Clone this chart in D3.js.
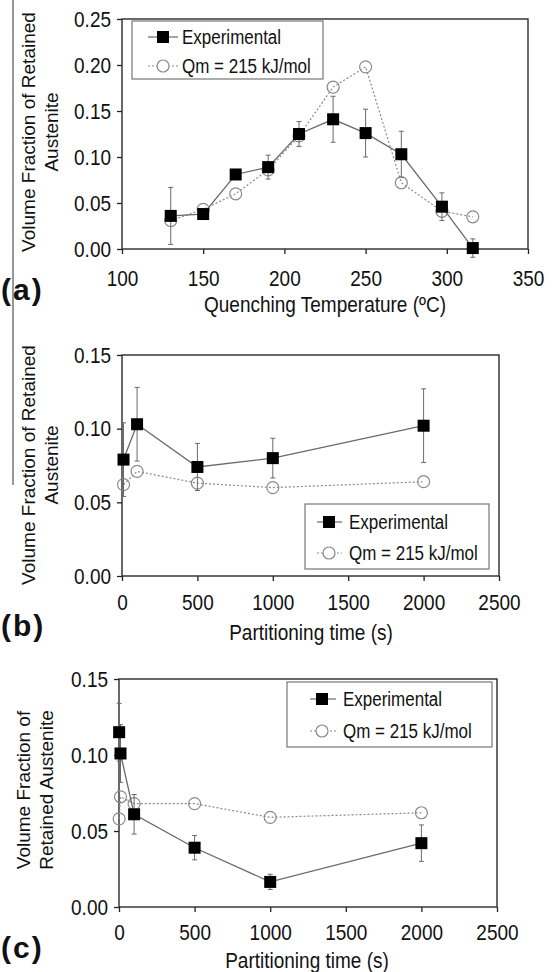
<!DOCTYPE html>
<html>
<head>
<meta charset="utf-8">
<script src="https://cdn.jsdelivr.net/npm/d3@7"></script>
<style>
  body { margin: 0; background: #fff; }
  text { font-family: "Liberation Sans", Arial, sans-serif; fill: #111; }
  .stretch { transform-box: fill-box; transform-origin: center; transform: scaleY(1.15); }
</style>
</head>
<body>
<div id="chart"></div>
<script>
var svgWidth = 552;
var svgHeight = 972;

// panel (a) - quenching temperature
var quenchTemp = [130, 150, 170, 190, 209, 230, 250, 272, 297, 316];
var expA = [0.036, 0.038, 0.081, 0.089, 0.125, 0.141, 0.126, 0.103, 0.046, 0.001];
var errA = [0.031, 0.004, 0.003, 0.013, 0.0135, 0.025, 0.026, 0.025, 0.015, 0.01];
var qmA = [0.031, 0.043, 0.060, 0.086, 0.123, 0.176, 0.198, 0.072, 0.041, 0.035];
var xTicksA = [100, 150, 200, 250, 300, 350];
var yTicksA = [0, 0.05, 0.10, 0.15, 0.20, 0.25];

// panel (b) - partitioning time
var timeB = [10, 100, 500, 1000, 2000];
var expB = [0.079, 0.103, 0.074, 0.080, 0.102];
var errB = [0.025, 0.025, 0.016, 0.0135, 0.025];
var qmB = [0.062, 0.071, 0.063, 0.060, 0.064];

// panel (c) - partitioning time
var timeC = [1, 10, 100, 500, 1000, 2000];
var expC = [0.115, 0.101, 0.061, 0.039, 0.0165, 0.042];
var errC = [0.019, 0.019, 0.013, 0.008, 0.005, 0.012];
var qmC = [0.058, 0.0725, 0.068, 0.068, 0.059, 0.062];

var xTicksTime = [0, 500, 1000, 1500, 2000, 2500];
var yTicksTime = [0, 0.05, 0.10, 0.15];

var legendNames = ["Experimental", "Qm = 215 kJ/mol"];

var svg = d3.select("#chart")
    .append("svg")
    .attr("width", svgWidth)
    .attr("height", svgHeight);

// the stray border line at the left of the figure
svg.append("line")
    .attr("x1", 13).attr("x2", 13)
    .attr("y1", 0).attr("y2", 485)
    .attr("stroke", "#333")
    .attr("stroke-width", 1);

function drawPanel(p) {
    var xScale = d3.scaleLinear().domain(p.xDomain).range(p.xRange);
    var yScale = d3.scaleLinear().domain(p.yDomain).range(p.yRange);

    var g = svg.append("g");

    // axes
    var bottomAxis = d3.axisBottom(xScale)
        .tickValues(p.xTicks)
        .tickSize(5)
        .tickPadding(p.xPad)
        .tickFormat(d3.format("d"));
    var leftAxis = d3.axisLeft(yScale)
        .tickValues(p.yTicks)
        .tickSize(5)
        .tickPadding(6)
        .tickFormat(d3.format(".2f"));

    var xAxis = g.append("g")
        .attr("transform", `translate(0, ${p.yRange[0]})`)
        .call(bottomAxis);
    var yAxis = g.append("g")
        .attr("transform", `translate(${p.xRange[0]}, 0)`)
        .call(leftAxis);

    [xAxis, yAxis].forEach(function(ax) {
        ax.select(".domain").remove();
        ax.selectAll("line").attr("stroke", "#222").attr("stroke-width", 1.3);
        ax.selectAll("text")
            .attr("class", "stretch")
            .style("font-size", "19px")
            .attr("fill", "#111");
    });

    // plot frame
    g.append("rect")
        .attr("x", p.xRange[0])
        .attr("y", p.yRange[1])
        .attr("width", p.xRange[1] - p.xRange[0])
        .attr("height", p.yRange[0] - p.yRange[1])
        .attr("fill", "none")
        .attr("stroke", "#2a2a2a")
        .attr("stroke-width", 1.4);

    var expData = p.x.map((d, i) => ({x: d, y: p.exp[i], e: p.err[i]}));
    var qmData = p.x.map((d, i) => ({x: d, y: p.qm[i]}));

    var line = d3.line()
        .x(d => xScale(d.x))
        .y(d => yScale(d.y));

    // model series, dotted line with open circles
    g.append("path")
        .datum(qmData)
        .attr("d", line)
        .attr("fill", "none")
        .attr("stroke", "#8a8a8a")
        .attr("stroke-width", 1.2)
        .attr("stroke-dasharray", "2,2");

    g.append("g")
        .selectAll("circle")
        .data(qmData)
        .enter()
        .append("circle")
        .attr("cx", d => xScale(d.x))
        .attr("cy", d => yScale(d.y))
        .attr("r", 6)
        .attr("fill", "none")
        .attr("stroke", "#8a8a8a")
        .attr("stroke-width", 1.2);

    // error bars
    var bars = g.append("g")
        .selectAll("g")
        .data(expData)
        .enter()
        .append("g")
        .attr("stroke", "#6a6a6a")
        .attr("stroke-width", 1);
    bars.append("line")
        .attr("x1", d => xScale(d.x)).attr("x2", d => xScale(d.x))
        .attr("y1", d => yScale(d.y - d.e)).attr("y2", d => yScale(d.y + d.e));
    bars.append("line")
        .attr("x1", d => xScale(d.x) - 2.5).attr("x2", d => xScale(d.x) + 2.5)
        .attr("y1", d => yScale(d.y + d.e)).attr("y2", d => yScale(d.y + d.e));
    bars.append("line")
        .attr("x1", d => xScale(d.x) - 2.5).attr("x2", d => xScale(d.x) + 2.5)
        .attr("y1", d => yScale(d.y - d.e)).attr("y2", d => yScale(d.y - d.e));

    // experimental series, solid line with black squares
    g.append("path")
        .datum(expData)
        .attr("d", line)
        .attr("fill", "none")
        .attr("stroke", "#6a6a6a")
        .attr("stroke-width", 1.3);

    g.append("g")
        .selectAll("rect")
        .data(expData)
        .enter()
        .append("rect")
        .attr("x", d => xScale(d.x) - 6)
        .attr("y", d => yScale(d.y) - 6)
        .attr("width", 12)
        .attr("height", 12)
        .attr("fill", "#000");

    // legend
    var lg = p.legend;
    g.append("rect")
        .attr("x", lg.x0).attr("y", lg.y0)
        .attr("width", lg.x1 - lg.x0).attr("height", lg.y1 - lg.y0)
        .attr("fill", "#fff")
        .attr("stroke", "#777")
        .attr("stroke-width", 1.2);
    lg.rows.forEach(function(ry, i) {
        g.append("line")
            .attr("x1", lg.lineX[0]).attr("x2", lg.lineX[1])
            .attr("y1", ry).attr("y2", ry)
            .attr("stroke", i === 0 ? "#6a6a6a" : "#8a8a8a")
            .attr("stroke-width", 1.2)
            .attr("stroke-dasharray", i === 0 ? null : "2,2");
        if (i === 0) {
            g.append("rect")
                .attr("x", lg.mx - 6).attr("y", ry - 6)
                .attr("width", 12).attr("height", 12)
                .attr("fill", "#000");
        } else {
            g.append("circle")
                .attr("cx", lg.mx).attr("cy", ry).attr("r", 6)
                .attr("fill", "#fff")
                .attr("stroke", "#8a8a8a")
                .attr("stroke-width", 1.2);
        }
        g.append("text")
            .attr("class", "stretch")
            .attr("x", lg.tx)
            .attr("y", ry)
            .attr("dy", "0.36em")
            .style("font-size", "17px")
            .text(legendNames[i]);
    });

    // x axis title
    g.append("text")
        .attr("class", "stretch")
        .attr("x", p.xTitle.x)
        .attr("y", p.xTitle.y)
        .attr("dy", "0.36em")
        .attr("text-anchor", "middle")
        .style("font-size", "19px")
        .text(p.xTitle.text);

    // y axis title, two lines
    p.yTitle.lines.forEach(function(t, i) {
        g.append("text")
            .attr("transform", `translate(${p.yTitle.xs[i]}, ${p.yTitle.cy}) rotate(-90)`)
            .attr("dy", "0.36em")
            .attr("text-anchor", "middle")
            .style("font-size", "19px")
            .text(t);
    });

    // panel tag
    g.append("text")
        .attr("x", 1)
        .attr("y", p.tagY)
        .attr("dy", "0.36em")
        .style("font-size", "30px")
        .style("font-weight", "bold")
        .style("letter-spacing", "2px")
        .attr("fill", "#000")
        .text(p.tag);
}

drawPanel({
    x: quenchTemp, exp: expA, err: errA, qm: qmA,
    xDomain: [100, 350], yDomain: [0, 0.25],
    xRange: [122, 528], yRange: [249, 19],
    xTicks: xTicksA, yTicks: yTicksA, xPad: 17,
    legend: {x0: 132, y0: 21, x1: 323, y1: 79, rows: [37, 66], lineX: [148, 178], mx: 163, tx: 182},
    xTitle: {text: "Quenching Temperature (ºC)", x: 325, y: 304},
    yTitle: {lines: ["Volume Fraction of Retained", "Austenite"], xs: [28, 51], cy: 132},
    tag: "(a)", tagY: 289
});

drawPanel({
    x: timeB, exp: expB, err: errB, qm: qmB,
    xDomain: [0, 2500], yDomain: [0, 0.15],
    xRange: [122, 499], yRange: [576, 355],
    xTicks: xTicksTime, yTicks: yTicksTime, xPad: 14,
    legend: {x0: 305, y0: 504, x1: 489, y1: 569, rows: [522, 553], lineX: [317, 342], mx: 329, tx: 349},
    xTitle: {text: "Partitioning time (s)", x: 311, y: 632},
    yTitle: {lines: ["Volume Fraction of Retained", "Austenite"], xs: [28, 51], cy: 465},
    tag: "(b)", tagY: 625
});

drawPanel({
    x: timeC, exp: expC, err: errC, qm: qmC,
    xDomain: [0, 2500], yDomain: [0, 0.15],
    xRange: [119, 497], yRange: [907, 679],
    xTicks: xTicksTime, yTicks: yTicksTime, xPad: 13,
    legend: {x0: 287, y0: 682, x1: 492, y1: 747, rows: [699, 731], lineX: [310, 336], mx: 322, tx: 343},
    xTitle: {text: "Partitioning time (s)", x: 307, y: 960},
    yTitle: {lines: ["Volume Fraction of", "Retained Austenite"], xs: [23, 46], cy: 790},
    tag: "(c)", tagY: 947
});
</script>
</body>
</html>
